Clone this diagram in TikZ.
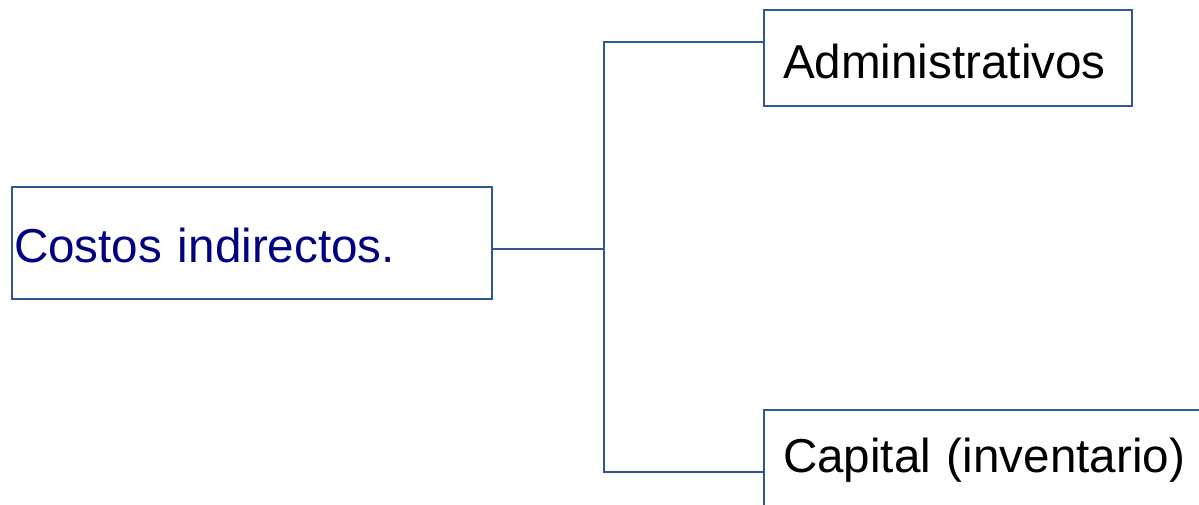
\documentclass[tikz,border=0pt]{standalone}
\usepackage{fontspec}
\setmainfont{Liberation Sans}
\definecolor{lineblue}{HTML}{2F5597}
\definecolor{navytext}{HTML}{000080}
\begin{document}
\begin{tikzpicture}[x=1pt,y=1pt,
  box/.style={draw=lineblue,line width=2.5pt,fill=white,inner ysep=0pt,align=left,
    font=\fontsize{47.6}{57}\selectfont},
  conn/.style={draw=lineblue,line width=2.5pt}]
\useasboundingbox (0,0) rectangle (1199,504);
\clip (0,0) rectangle (1199,504);
\node[box,text=navytext,minimum height=112,text width=476,inner xsep=2pt,text height=39pt,text depth=0pt] (L) at (252,261) {Costos indirectos.};
\node[box,text=black,minimum height=96,text width=330,inner xsep=19pt,text height=41pt,text depth=0pt] (A) at (948,446) {Administrativos};
\node[box,text=black,minimum height=100,text width=408,inner xsep=19pt] (C) at (987,44) {Capital (inventario)};
\coordinate (J) at (604,255);
\coordinate (JT) at (604,462);
\coordinate (JB) at (604,32);
\draw[conn] (L.east |- J) -- (J);
\draw[conn] (A.west |- JT) -- (JT) -- (JB) -- (C.west |- JB);
\end{tikzpicture}
\end{document}
